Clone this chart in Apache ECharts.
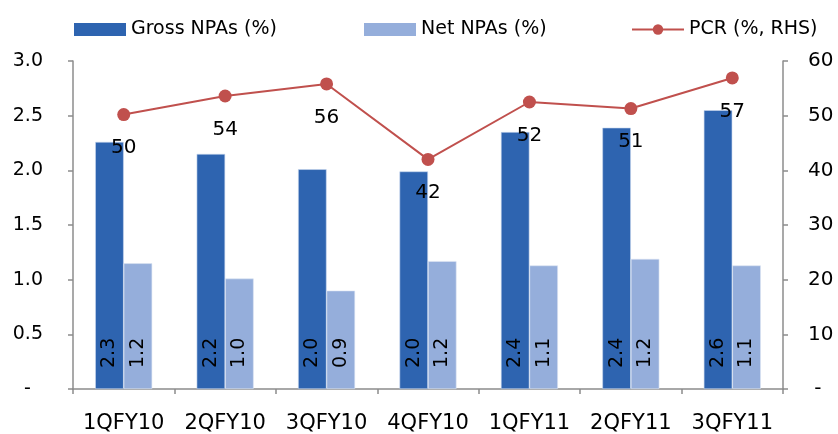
<!DOCTYPE html>
<html>
<head>
<meta charset="utf-8">
<script src="https://cdn.jsdelivr.net/npm/echarts@6/dist/echarts.min.js"></script>
<style>html,body{margin:0;padding:0;background:#fff}#c{width:838px;height:434px}</style>
</head>
<body>
<div id="c"></div>
<script>
const categories = ['1QFY10','2QFY10','3QFY10','4QFY10','1QFY11','2QFY11','3QFY11'];
const grossNPA = [2.26, 2.15, 2.01, 1.99, 2.35, 2.39, 2.55];
const netNPA = [1.15, 1.01, 0.90, 1.17, 1.13, 1.19, 1.13];
const pcr = [50.2, 53.6, 55.8, 42.0, 52.5, 51.3, 56.9];
const grossLabels = ['2.3','2.2','2.0','2.0','2.4','2.4','2.6'];
const netLabels = ['1.2','1.0','0.9','1.2','1.1','1.2','1.1'];
const pcrLabels = ['50','54','56','42','52','51','57'];

const FONT = 'DejaVu Sans';
const axisColor = '#8c8c8c';
const chart = echarts.init(document.getElementById('c'));
const legendBase = {top: 20, padding: 0, itemWidth: 52, itemHeight: 13, itemGap: 0,
  textStyle: {fontFamily: FONT, fontSize: 19, color: '#000'}};
chart.setOption({
  animation: false,
  textStyle: {fontFamily: FONT},
  legend: [
    Object.assign({left: 74, icon: 'rect', itemStyle: {borderWidth: 0}, data: ['Gross NPAs (%)']}, legendBase),
    Object.assign({left: 364, icon: 'rect', itemStyle: {borderWidth: 0}, data: ['Net NPAs (%)']}, legendBase),
    Object.assign({left: 631, data: ['PCR (%, RHS)']}, legendBase)
  ],
  grid: {left: 73, right: 55, top: 61, bottom: 43},
  xAxis: {
    type: 'category', data: categories,
    axisLine: {lineStyle: {color: axisColor, width: 1.5}},
    axisTick: {show: true, length: 5, lineStyle: {color: axisColor, width: 1.5}},
    axisLabel: {interval: 0, fontFamily: FONT, fontSize: 21, color: '#000', margin: 24}
  },
  yAxis: [
    {type: 'value', min: 0, max: 3, interval: 0.5,
     splitLine: {show: false},
     axisLine: {show: true, lineStyle: {color: axisColor, width: 1.5}},
     axisTick: {show: true, length: 5, lineStyle: {color: axisColor, width: 1.5}},
     axisLabel: {fontFamily: FONT, fontSize: 19, color: '#000', margin: 30,
       formatter: v => v === 0 ? '-  ' : v.toFixed(1)}},
    {type: 'value', min: 0, max: 60, interval: 10,
     splitLine: {show: false},
     axisLine: {show: true, lineStyle: {color: axisColor, width: 1.5}},
     axisTick: {show: true, length: 5, lineStyle: {color: axisColor, width: 1.5}},
     axisLabel: {fontFamily: FONT, fontSize: 20, color: '#000', margin: 25,
       formatter: v => v === 0 ? ' -' : String(v)}}
  ],
  series: [
    {name: 'Gross NPAs (%)', type: 'bar', data: grossNPA, barWidth: 28.5, barGap: '0%',
     itemStyle: {color: '#2E64B0', borderColor: '#c9d6ee', borderWidth: 0.6},
     label: {show: true, position: 'insideBottom', rotate: 90, distance: 21,
       align: 'left', verticalAlign: 'middle', fontFamily: FONT, fontSize: 19, color: '#000',
       formatter: p => grossLabels[p.dataIndex]}},
    {name: 'Net NPAs (%)', type: 'bar', data: netNPA, barWidth: 28.5, barGap: '0%',
     itemStyle: {color: '#95AEDB', borderColor: '#dde5f4', borderWidth: 0.6},
     label: {show: true, position: 'insideBottom', rotate: 90, distance: 21,
       align: 'left', verticalAlign: 'middle', fontFamily: FONT, fontSize: 19, color: '#000',
       formatter: p => netLabels[p.dataIndex]}},
    {name: 'PCR (%, RHS)', type: 'line', yAxisIndex: 1, data: pcr,
     symbol: 'circle', symbolSize: 13,
     lineStyle: {color: '#C0504D', width: 2}, itemStyle: {color: '#C0504D'},
     label: {show: true, position: 'bottom', distance: 17, fontFamily: FONT, fontSize: 20, color: '#000',
       formatter: p => pcrLabels[p.dataIndex]}, z: 5}
  ]
});
</script>
</body>
</html>
